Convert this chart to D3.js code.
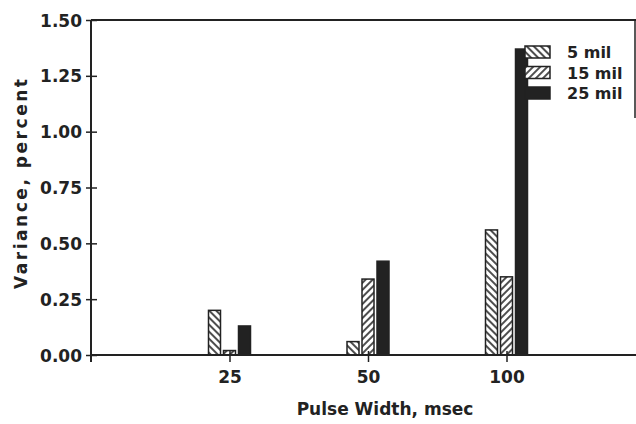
<!DOCTYPE html>
<html>
<head>
<meta charset="utf-8">
<script src="https://cdn.jsdelivr.net/npm/d3@7"></script>
<style>
  body { margin: 0; background: #fff; }
  text { font-family: "DejaVu Sans", sans-serif; font-weight: bold; fill: #222; }
</style>
</head>
<body>
<div class="chart"></div>
<script>

// data
const pulseWidths = ["25", "50", "100"]
const seriesKeys = ["5 mil", "15 mil", "25 mil"]
const mil5 = [0.20, 0.06, 0.56]
const mil15 = [0.02, 0.34, 0.35]
const mil25 = [0.13, 0.42, 1.37]
const yTicks = [0, 0.25, 0.5, 0.75, 1.0, 1.25, 1.5]

const seriesValues = { "5 mil": mil5, "15 mil": mil15, "25 mil": mil25 }

function BarChart(container) {

    const width = 636, height = 424
    const left = 91, top = 20, bottom = 355, right = 636

    let svg = d3.select(container).append("svg")
        .attr("width", width)
        .attr("height", height)

    // hatch patterns
    let defs = svg.append("defs")
    function hatch(id, angle) {
        let p = defs.append("pattern")
            .attr("id", id)
            .attr("patternUnits", "userSpaceOnUse")
            .attr("width", 5)
            .attr("height", 5)
            .attr("patternTransform", `rotate(${angle})`)
        p.append("rect").attr("width", 5).attr("height", 5).attr("fill", "#fff")
        p.append("line")
            .attr("x1", 1).attr("y1", 0).attr("x2", 1).attr("y2", 5)
            .attr("stroke", "#222")
            .attr("stroke-width", 1.6)
    }
    hatch("back", -45)
    hatch("fwd", 45)

    let fill = d3.scaleOrdinal()
        .domain(seriesKeys)
        .range(["url(#back)", "url(#fwd)", "#222"])

    // categories sit at index 1..3, index 0 is the axis
    let xScale = d3.scaleLinear()
        .domain([0, 3])
        .range([left, 506.5])

    let inner = d3.scaleBand()
        .domain(seriesKeys)
        .range([-22.5, 22.5])
        .paddingInner(0.2)
        .paddingOuter(0.1)

    let yScale = d3.scaleLinear()
        .domain([0, 1.5])
        .range([bottom, top])

    // frame lines
    svg.append("line")
        .attr("x1", left).attr("x2", right).attr("y1", top).attr("y2", top)
        .attr("stroke", "#222").attr("stroke-width", 2)
    svg.append("line")
        .attr("x1", 635).attr("x2", 635).attr("y1", top).attr("y2", 118)
        .attr("stroke", "#222").attr("stroke-width", 1.5)

    // bars
    let groups = svg.selectAll(".group")
        .data(pulseWidths)
        .join("g")
        .attr("class", "group")
        .attr("transform", (d, i) => `translate(${xScale(i + 1)},0)`)

    groups.selectAll("rect")
        .data((d, i) => seriesKeys.map(k => ({ key: k, value: seriesValues[k][i] })))
        .join("rect")
        .attr("x", d => inner(d.key))
        .attr("width", inner.bandwidth())
        .attr("y", d => yScale(d.value))
        .attr("height", d => yScale(0) - yScale(d.value))
        .attr("fill", d => fill(d.key))
        .attr("stroke", "#222")
        .attr("stroke-width", 1.5)

    // y axis
    let yAxis = d3.axisLeft(yScale)
        .tickValues(yTicks)
        .tickFormat(d3.format(".2f"))
        .tickSize(0)
        .tickPadding(9)

    let yg = svg.append("g")
        .attr("class", "axis y-axis")
        .attr("transform", `translate(${left},0)`)
        .call(yAxis)
    yg.select(".domain").remove()
    yg.selectAll("text").attr("font-size", 17).attr("font-family", null).attr("dy", "0.36em")
    yg.selectAll(".tick").append("line")
        .attr("x1", -5).attr("x2", 6)
        .attr("stroke", "#222").attr("stroke-width", 1.5)
    yg.append("line")
        .attr("y1", top).attr("y2", bottom + 7)
        .attr("stroke", "#222").attr("stroke-width", 2)

    // x axis
    let xAxis = d3.axisBottom(xScale)
        .tickValues([1, 2, 3])
        .tickFormat((d, i) => pulseWidths[i])
        .tickSize(0)
        .tickPadding(16)

    let xg = svg.append("g")
        .attr("class", "axis x-axis")
        .attr("transform", `translate(0,${bottom})`)
        .call(xAxis)
    xg.select(".domain").remove()
    xg.selectAll("text").attr("font-size", 17).attr("font-family", null)
    xg.selectAll(".tick").append("line")
        .attr("y1", -4).attr("y2", 7)
        .attr("stroke", "#222").attr("stroke-width", 1.5)
    xg.append("line")
        .attr("x1", left).attr("x2", right)
        .attr("stroke", "#222").attr("stroke-width", 2)

    // titles
    svg.append("text")
        .attr("x", 385)
        .attr("y", 415)
        .attr("text-anchor", "middle")
        .attr("font-size", 17)
        .text("Pulse Width, msec")

    svg.append("text")
        .attr("transform", "translate(27,184) rotate(-90)")
        .attr("text-anchor", "middle")
        .attr("font-size", 17)
        .attr("textLength", 210)
        .attr("lengthAdjust", "spacing")
        .text("Variance, percent")

    // legend
    let legend = svg.append("g")
        .attr("class", "legend")
        .attr("transform", "translate(525,46)")

    let rows = legend.selectAll("g")
        .data(seriesKeys)
        .join("g")
        .attr("transform", (d, i) => `translate(0,${i * 20.5})`)

    rows.append("rect")
        .attr("width", 25)
        .attr("height", 12)
        .attr("fill", d => fill(d))
        .attr("stroke", "#222")
        .attr("stroke-width", 1.5)

    rows.append("text")
        .attr("x", 42)
        .attr("y", 12)
        .attr("font-size", 16)
        .text(d => d)
}

BarChart(".chart")

</script>
</body>
</html>
